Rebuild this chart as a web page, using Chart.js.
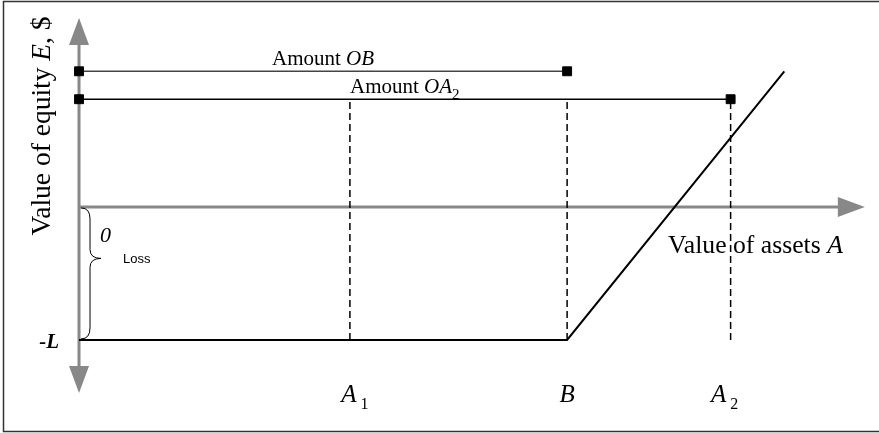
<!DOCTYPE html>
<html>
<head>
<meta charset="utf-8">
<script src="https://cdn.jsdelivr.net/npm/chart.js@4.4.0/dist/chart.umd.min.js"></script>
<style>
body { margin: 0; background: #fff; }
#wrap { width: 879px; height: 433px; position: relative; }
</style>
</head>
<body>
<div id="wrap"><canvas id="mycanvas"></canvas></div>
<script>
// asset values marked on the horizontal axis
var assetNames = ['A', 'B', 'A'];
var assetSubs = ['1', '', '2'];
var assetValues = [55.5, 100, 133.5];
// equity value when assets are below B
var lossLevel = -50;
// equity payoff line
var payoffX = [0, 100, 144.5];
var payoffY = [-50, -50, 51];
// horizontal "amount" bars
var amountNames = ['OB', 'OA'];
var amountSubs = ['', '2'];
var amountLevels = [51, 40.5];
var amountEnds = [100, 133.5];
// axis extents
var xAxisEnd = 161;
var yAxisTop = 71;
var yAxisBottom = -70;

var serif = '"Liberation Serif", "Times New Roman", serif';
// small nudges of the asset labels, px
var labelShift = [5, 0, -6];

var datasets = [];
datasets.push({
    data: payoffX.map(function(x, i){ return {x: x, y: payoffY[i]}; }),
    borderColor: '#000', borderWidth: 2, pointRadius: 0, showLine: true
});
for (var i = 0; i < amountLevels.length; i++) {
    datasets.push({
        data: [{x: 0, y: amountLevels[i]}, {x: amountEnds[i], y: amountLevels[i]}],
        borderColor: i == 0 ? '#444' : '#000', borderWidth: 1.5, showLine: true,
        pointStyle: 'rect', pointRadius: 6.3, pointBorderWidth: 1,
        pointBackgroundColor: '#000', pointBorderColor: '#000'
    });
}
for (var j = 0; j < assetValues.length; j++) {
    datasets.push({
        data: [{x: assetValues[j], y: lossLevel}, {x: assetValues[j], y: amountLevels[1]}],
        borderColor: '#000', borderWidth: 1.5, borderDash: [7, 4], pointRadius: 0, showLine: true
    });
}

function rich(ctx, x, y, parts, align) {
    var w = 0;
    parts.forEach(function(p){ ctx.font = p.font; w += ctx.measureText(p.t).width; });
    var cx = align == 'center' ? x - w / 2 : (align == 'right' ? x - w : x);
    ctx.textAlign = 'left';
    ctx.textBaseline = 'alphabetic';
    parts.forEach(function(p){
        ctx.font = p.font;
        ctx.fillText(p.t, cx, y + (p.dy || 0));
        cx += ctx.measureText(p.t).width;
    });
}

var diagram = {
    id: 'diagram',
    beforeDatasetsDraw: function(chart) {
        var ctx = chart.ctx, xs = chart.scales.x, ys = chart.scales.y;
        var ox = xs.getPixelForValue(0), oy = ys.getPixelForValue(0);
        var xe = xs.getPixelForValue(xAxisEnd);
        var yt = ys.getPixelForValue(yAxisTop), yb = ys.getPixelForValue(yAxisBottom);
        ctx.save();
        ctx.strokeStyle = '#888';
        ctx.fillStyle = '#888';
        ctx.lineWidth = 3;
        ctx.beginPath();
        ctx.moveTo(ox, yt + 20); ctx.lineTo(ox, yb - 20);
        ctx.moveTo(ox, oy); ctx.lineTo(xe - 20, oy);
        ctx.stroke();
        ctx.beginPath();
        ctx.moveTo(ox, yt); ctx.lineTo(ox - 10, yt + 27); ctx.lineTo(ox + 10, yt + 27); ctx.closePath();
        ctx.moveTo(ox, yb); ctx.lineTo(ox - 10, yb - 27); ctx.lineTo(ox + 10, yb - 27); ctx.closePath();
        ctx.moveTo(xe, oy); ctx.lineTo(xe - 27, oy - 10); ctx.lineTo(xe - 27, oy + 10); ctx.closePath();
        ctx.fill();
        ctx.restore();
    },
    afterDraw: function(chart) {
        var ctx = chart.ctx, xs = chart.scales.x, ys = chart.scales.y;
        var ox = xs.getPixelForValue(0), oy = ys.getPixelForValue(0);
        var ly = ys.getPixelForValue(lossLevel);
        ctx.save();
        // frame
        ctx.strokeStyle = '#333';
        ctx.lineWidth = 1.5;
        ctx.strokeRect(3.5, 1.5, 900, 430);
        // brace for the loss
        var x0 = ox + 2, x1 = ox + 11, xt = ox + 22, ym = (oy + ly) / 2 - 15;
        ctx.strokeStyle = '#000';
        ctx.lineWidth = 1;
        ctx.beginPath();
        ctx.moveTo(x0, oy + 1);
        ctx.quadraticCurveTo(x1, oy + 1, x1, oy + 12);
        ctx.lineTo(x1, ym - 9);
        ctx.quadraticCurveTo(x1, ym, xt, ym);
        ctx.quadraticCurveTo(x1, ym, x1, ym + 9);
        ctx.lineTo(x1, ly - 12);
        ctx.quadraticCurveTo(x1, ly - 1, x0, ly - 1);
        ctx.stroke();

        ctx.fillStyle = '#000';
        // amount labels
        for (var i = 0; i < amountLevels.length; i++) {
            var cx = (ox + xs.getPixelForValue(amountEnds[i])) / 2;
            var by = ys.getPixelForValue(amountLevels[i]) - 6;
            var parts = [
                {t: 'Amount ', font: '21px ' + serif},
                {t: amountNames[i], font: 'italic 21px ' + serif}
            ];
            if (amountSubs[i]) parts.push({t: amountSubs[i], font: '15px ' + serif, dy: 6});
            rich(ctx, cx, by, parts, 'center');
        }
        // asset labels under the axis
        for (var j = 0; j < assetValues.length; j++) {
            var ax = xs.getPixelForValue(assetValues[j]) + labelShift[j];
            var p = [{t: assetNames[j], font: 'italic 25px ' + serif}];
            if (assetSubs[j]) p.push({t: ' ' + assetSubs[j], font: '16px ' + serif, dy: 7});
            rich(ctx, ax, 402, p, 'center');
        }
        // axis titles
        rich(ctx, xs.getPixelForValue(xAxisEnd) - 22, oy + 46, [
            {t: 'Value of assets ', font: '25.7px ' + serif},
            {t: 'A', font: 'italic 25.7px ' + serif}
        ], 'right');
        ctx.save();
        ctx.translate(50, 126);
        ctx.rotate(-Math.PI / 2);
        rich(ctx, 0, 0, [
            {t: 'Value of equity ', font: '27.5px ' + serif},
            {t: 'E', font: 'italic 27.5px ' + serif},
            {t: ', $', font: '27.5px ' + serif}
        ], 'center');
        ctx.restore();
        // zero, loss and -L
        rich(ctx, ox + 21, oy + 35, [{t: '0', font: 'italic 22px ' + serif}], 'left');
        ctx.font = '13px "Liberation Sans", Arial, sans-serif';
        ctx.textBaseline = 'middle';
        ctx.fillText('Loss', ox + 44, ym + 1);
        rich(ctx, ox - 20, ly + 8, [{t: '-L', font: 'bold italic 21px ' + serif}], 'right');
        ctx.restore();
    }
};

var ctx = document.getElementById('mycanvas');
var chart = new Chart(ctx, {
    type: 'scatter',
    data: { datasets: datasets },
    options: {
        responsive: true,
        maintainAspectRatio: false,
        animation: false,
        layout: { padding: 0, autoPadding: false },
        plugins: { legend: { display: false }, tooltip: { enabled: false } },
        scales: {
            x: { type: 'linear', min: -16.19, max: 163.9, display: false },
            y: { type: 'linear', min: -85, max: 77.8, display: false }
        }
    },
    plugins: [diagram]
});
</script>
</body>
</html>
